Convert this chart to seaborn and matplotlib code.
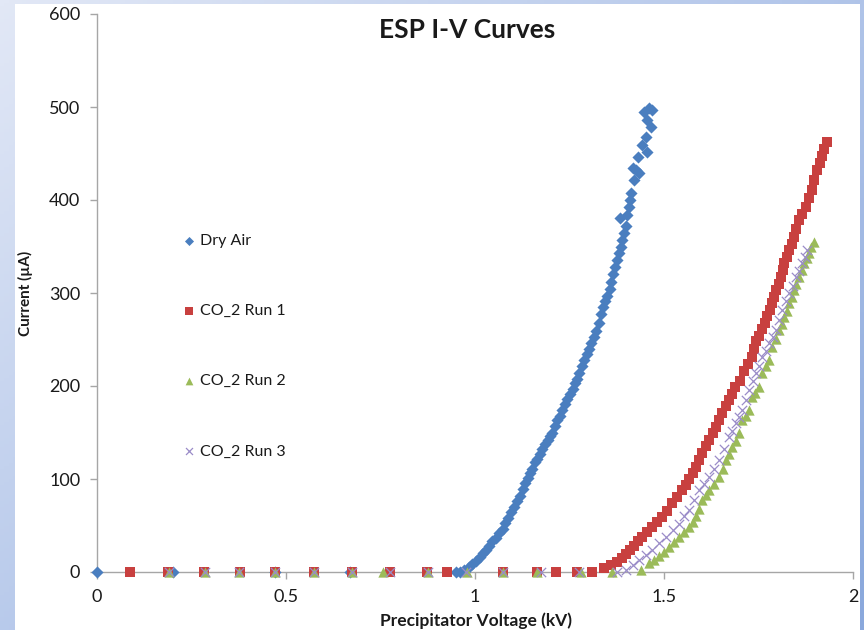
import numpy as np
import pandas as pd
import matplotlib
matplotlib.use("Agg")
import matplotlib.pyplot as plt
from matplotlib.patches import Rectangle
from matplotlib.colors import LinearSegmentedColormap
import seaborn as sns

sns.set_style("white")
plt.rcParams["font.family"] = ["Lato", "DejaVu Sans"]

# ---------------- data ----------------
dry_air_v = [0.0, 0.20, 0.47, 0.67, 0.950,
             0.960, 0.972, 0.985, 0.993, 1.002, 1.012, 1.020, 1.028, 1.038, 1.046,
             1.055, 1.063, 1.073, 1.080, 1.088, 1.096, 1.104, 1.110, 1.118, 1.126,
             1.132, 1.140, 1.146, 1.152, 1.158, 1.165, 1.172, 1.178, 1.185, 1.192,
             1.198, 1.205, 1.212, 1.218, 1.224, 1.231, 1.238, 1.244, 1.251, 1.258,
             1.264, 1.270, 1.276, 1.283, 1.289, 1.295, 1.302, 1.308, 1.314, 1.321,
             1.327, 1.333, 1.338, 1.344, 1.350, 1.356, 1.361, 1.366, 1.371, 1.375,
             1.380, 1.386, 1.390, 1.384, 1.395, 1.399, 1.403, 1.407, 1.413, 1.410,
             1.421, 1.435, 1.427, 1.418, 1.430, 1.456, 1.443, 1.453, 1.466, 1.456,
             1.448, 1.461, 1.469]
dry_air_i = [0, 0, 0, 0, 0,
             0, 2, 5, 9, 12, 16, 20, 24, 28, 33,
             37, 42, 46, 53, 58, 64, 70, 76, 82, 89,
             96, 101, 106, 111, 118, 122, 127, 132, 138, 142,
             146, 150, 157, 163, 168, 174, 181, 186, 191, 197,
             203, 208, 214, 222, 228, 234, 240, 246, 253, 259,
             268, 277, 285, 291, 297, 304, 312, 320, 328, 336,
             343, 350, 357, 381, 364, 372, 384, 393, 407, 400,
             421, 429, 432, 434, 446, 452, 459, 468, 478, 486,
             495, 499, 497]

co2_run1_v = [0.087, 0.188, 0.283, 0.378, 0.470, 0.573, 0.674, 0.774, 0.872, 0.925,
              1.073, 1.165, 1.215, 1.271, 1.310,
              1.342, 1.360, 1.375, 1.390, 1.400, 1.410, 1.420, 1.432, 1.443, 1.456,
              1.469, 1.482, 1.495, 1.508, 1.522, 1.535, 1.548, 1.558, 1.567, 1.576,
              1.585, 1.593, 1.601, 1.611, 1.620, 1.629, 1.638, 1.646, 1.654, 1.663,
              1.672, 1.680, 1.689, 1.700, 1.712, 1.722, 1.733, 1.739, 1.744, 1.752,
              1.760, 1.767, 1.773, 1.780, 1.786, 1.792, 1.797, 1.804, 1.810, 1.814,
              1.818, 1.825, 1.831, 1.838, 1.844, 1.850, 1.857, 1.866, 1.876, 1.884,
              1.892, 1.898, 1.905, 1.912, 1.918, 1.924, 1.931]
co2_run1_i = [0, 0, 0, 0, 0, 0, 0, 0, 0, 0,
              0, 0, 0, 0, 0,
              4, 8, 11, 15, 19, 24, 28, 33, 38, 43,
              48, 54, 59, 66, 74, 81, 88, 94, 100, 106,
              113, 120, 128, 135, 142, 149, 156, 163, 171, 178,
              185, 191, 199, 205, 216, 224, 231, 240, 248, 254,
              261, 268, 275, 282, 289, 296, 303, 310, 317, 325,
              332, 339, 346, 353, 360, 369, 378, 385, 392, 402,
              411, 422, 432, 440, 447, 455, 462]

co2_run2_v = [0.190, 0.285, 0.375, 0.470, 0.575, 0.675, 0.757, 0.875, 0.980,
              1.073, 1.165, 1.280, 1.363,
              1.440, 1.461, 1.474, 1.487, 1.500, 1.514, 1.527, 1.540, 1.553, 1.567,
              1.576, 1.585, 1.593, 1.601, 1.610, 1.620, 1.633, 1.646, 1.655, 1.664,
              1.672, 1.680, 1.690, 1.699, 1.707, 1.716, 1.725, 1.733, 1.742, 1.752,
              1.760, 1.769, 1.778, 1.786, 1.795, 1.805, 1.812, 1.818, 1.825, 1.831,
              1.838, 1.844, 1.850, 1.857, 1.864, 1.871, 1.878, 1.884, 1.890, 1.897]
co2_run2_i = [0, 0, 0, 0, 0, 0, 0, 0, 0,
              0, 0, 0, 0,
              2, 10, 13, 17, 22, 27, 32, 38, 43, 48,
              54, 60, 68, 77, 83, 88, 95, 102, 111, 120,
              127, 134, 141, 149, 163, 168, 174, 188, 193, 199,
              214, 221, 228, 242, 251, 260, 267, 274, 281, 289,
              296, 303, 310, 317, 325, 332, 338, 343, 349, 355]

co2_run3_v = [0.190, 0.285, 0.375, 0.470, 0.575, 0.675, 0.775, 0.875, 0.975,
              1.075, 1.175, 1.275, 1.375,
              1.400, 1.418, 1.435, 1.452, 1.469, 1.487, 1.506, 1.523, 1.540, 1.553,
              1.567, 1.580, 1.593, 1.606, 1.620, 1.633, 1.646, 1.659, 1.672, 1.681,
              1.691, 1.699, 1.707, 1.716, 1.725, 1.735, 1.744, 1.752, 1.760, 1.769,
              1.778, 1.788, 1.797, 1.805, 1.812, 1.822, 1.831, 1.840, 1.849, 1.857,
              1.865, 1.872, 1.878]
co2_run3_i = [0, 0, 0, 0, 0, 0, 0, 0, 0,
              0, 0, 0, 0,
              2, 7, 13, 18, 24, 31, 38, 45, 52, 60,
              67, 77, 88, 95, 102, 111, 120, 132, 145, 152,
              160, 167, 174, 185, 196, 205, 214, 222, 231, 238,
              246, 253, 260, 271, 282, 291, 300, 308, 317, 324,
              332, 339, 346]

series_names = ["Dry Air", "CO_2 Run 1", "CO_2 Run 2", "CO_2 Run 3"]
x_ticks = [0, 0.5, 1, 1.5, 2]
x_tick_labels = ["0", "0.5", "1", "1.5", "2"]
y_ticks = [0, 100, 200, 300, 400, 500, 600]

df = pd.concat([
    pd.DataFrame({"V": dry_air_v, "I": dry_air_i, "series": series_names[0]}),
    pd.DataFrame({"V": co2_run1_v, "I": co2_run1_i, "series": series_names[1]}),
    pd.DataFrame({"V": co2_run2_v, "I": co2_run2_i, "series": series_names[2]}),
    pd.DataFrame({"V": co2_run3_v, "I": co2_run3_i, "series": series_names[3]}),
], ignore_index=True)

# ---------------- figure ----------------
W, H = 864, 630
fig = plt.figure(figsize=(W / 100, H / 100), dpi=100)

# blue gradient slide background
bg = fig.add_axes([0, 0, 1, 1], zorder=-10)
gx, gy = np.meshgrid(np.linspace(0, 1, 200), np.linspace(0, 1, 200))
grad = 0.55 * gx + 0.45 * gy
cmap = LinearSegmentedColormap.from_list("bg", ["#e2e8f6", "#b4c7ea", "#8aa8dc"])
bg.imshow(grad, cmap=cmap, aspect="auto", extent=[0, 1, 0, 1], origin="upper")
bg.set_axis_off()

# white chart panel
fig.patches.append(Rectangle((15 / W, 0), (860 - 15) / W, (H - 4) / H,
                             transform=fig.transFigure, facecolor="white",
                             edgecolor="none", zorder=-5))

ax = fig.add_axes([97 / W, 58 / H, 756 / W, 558 / H])
ax.set_facecolor("none")

styles = {
    "Dry Air": dict(marker="D", color="#4A7EBF", s=38, linewidth=0),
    "CO_2 Run 1": dict(marker="s", color="#C8403F", s=62, linewidth=0),
    "CO_2 Run 2": dict(marker="^", color="#9BBB59", s=55, linewidth=0),
    "CO_2 Run 3": dict(marker="x", color="#9A8CC8", s=45, linewidth=0.9),
}
for name in series_names:
    sub = df[df["series"] == name]
    sns.scatterplot(data=sub, x="V", y="I", ax=ax, label=name, clip_on=False,
                    zorder=3, **styles[name])

ax.set_xlim(0, 2)
ax.set_ylim(0, 600)
ax.set_xticks(x_ticks)
ax.set_xticklabels(x_tick_labels)
ax.set_yticks(y_ticks)

for side in ["top", "right"]:
    ax.spines[side].set_visible(False)
for side in ["left", "bottom"]:
    ax.spines[side].set_color("#a6a6a6")
    ax.spines[side].set_linewidth(1.0)
ax.tick_params(axis="both", which="major", direction="out", length=5,
               width=1.0, color="#a6a6a6", labelsize=13, labelcolor="#1a1a1a",
               pad=7, left=True, bottom=True)

ax.set_xlabel("")
ax.set_ylabel("")
fig.text(476 / W, 1 - 621 / H, "Precipitator Voltage (kV)", ha="center", va="center",
         fontsize=12.5, fontweight="bold", color="#1a1a1a")
fig.text(25 / W, 1 - 293 / H, "Current (µA)", ha="center", va="center",
         rotation=90, fontsize=11, fontweight="bold", color="#1a1a1a")
fig.text(467 / W, 1 - 30 / H, "ESP I-V Curves", ha="center", va="center",
         fontsize=19, fontweight="bold", color="#1a1a1a")

leg = ax.legend(loc="upper left", bbox_to_anchor=(0.105, 0.62), frameon=False,
                fontsize=11.5, labelspacing=3.5, handlelength=0.6,
                handletextpad=0.35, markerscale=0.75, borderpad=0)
for t in leg.get_texts():
    t.set_color("#1a1a1a")

fig.savefig("out.png", dpi=100)
